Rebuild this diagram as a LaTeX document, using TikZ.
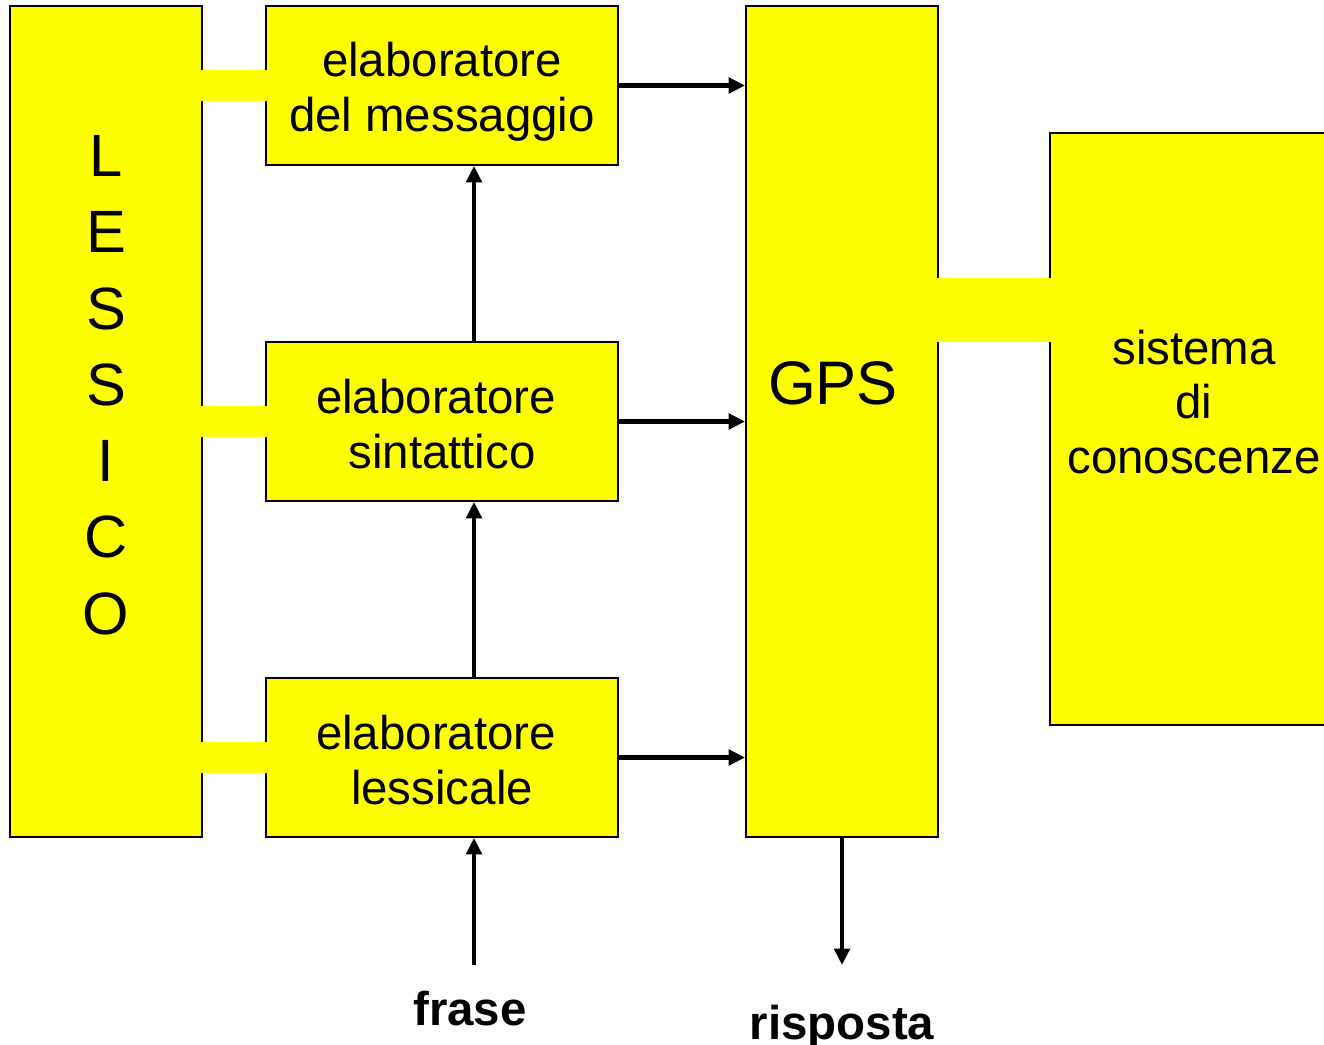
\documentclass[tikz,border=0pt]{standalone}
\usepackage{fontspec}
\setmainfont{Liberation Sans}
\usetikzlibrary{arrows.meta}
\definecolor{ylw}{RGB}{255,255,0}
\begin{document}
\begin{tikzpicture}[x=0.02cm,y=-0.02cm,
  box/.style={draw=black,fill=ylw,line width=1.1pt,inner sep=0pt},
  bar/.style={draw=ylw,line width=0.62cm,shorten <=-1.2pt,shorten >=-1.2pt},
  arr/.style={draw=black,line width=2.3pt,-{Triangle[length=0.33cm,width=0.31cm]}},
  txt/.style={font=\fontsize{27}{31.2}\selectfont,align=center,inner sep=0pt},
  btxt/.style={font=\fontsize{27}{31.2}\selectfont\bfseries,inner sep=0pt}]
\useasboundingbox (0,0) rectangle (1324,1044);
% boxes
\node[box,minimum width=3.84cm,minimum height=16.62cm] (lex) at (106,421.5) {};
\node[box,minimum width=7.04cm,minimum height=3.18cm] (msg) at (442,85.5) {};
\node[box,minimum width=7.04cm,minimum height=3.18cm] (sin) at (442,421.5) {};
\node[box,minimum width=7.04cm,minimum height=3.18cm] (les) at (442,757.5) {};
\node[box,minimum width=3.84cm,minimum height=16.62cm] (gps) at (842,421.5) {};
\node[box,minimum width=5.76cm,minimum height=11.84cm] (sys) at (1194,429) {};
% texts
\node[txt] (msgt) at (442,92) {elaboratore\\del messaggio};
\node[txt] (sint) at (442,424) {elaboratore\hspace*{0.24cm}\\sintattico};
\node[txt] (lest) at (442,760) {elaboratore\hspace*{0.24cm}\\lessicale};
\node[inner sep=0pt,font=\fontsize{35}{40}\selectfont] (gpst) at (833,383) {GPS};
\node[txt] (syst) at (1194,402) {sistema\\di\\conoscenze};
\node[inner sep=0pt,align=center,font=\fontsize{34}{43.4}\selectfont] (lext) at (106,385) {L\\E\\S\\S\\I\\C\\O};
\node[btxt,anchor=base] (frase) at (470,1025) {frase};
\node[btxt,anchor=base] (risp) at (842,1039) {risposta};
% coordinates
\coordinate (xcol) at (474,0);
\coordinate (ybar) at (0,310);
\coordinate (fstart) at (474,965);
\coordinate (rend) at (842,965);
% yellow bars
\draw[bar] (lex.east |- msg.west) -- (msg.west);
\draw[bar] (lex.east |- sin.west) -- (sin.west);
\draw[bar] (lex.east |- les.west) -- (les.west);
\draw[bar,line width=1.28cm] (gps.east |- ybar) -- (sys.west |- ybar);
% arrows
\draw[arr] (msg.east) -- (gps.west |- msg.east);
\draw[arr] (sin.east) -- (gps.west |- sin.east);
\draw[arr] (les.east) -- (gps.west |- les.east);
\draw[arr] (sin.north -| xcol) -- (msg.south -| xcol);
\draw[arr] (les.north -| xcol) -- (sin.south -| xcol);
\draw[arr] (fstart) -- (les.south -| xcol);
\draw[arr] (gps.south) -- (rend);
\end{tikzpicture}
\end{document}
